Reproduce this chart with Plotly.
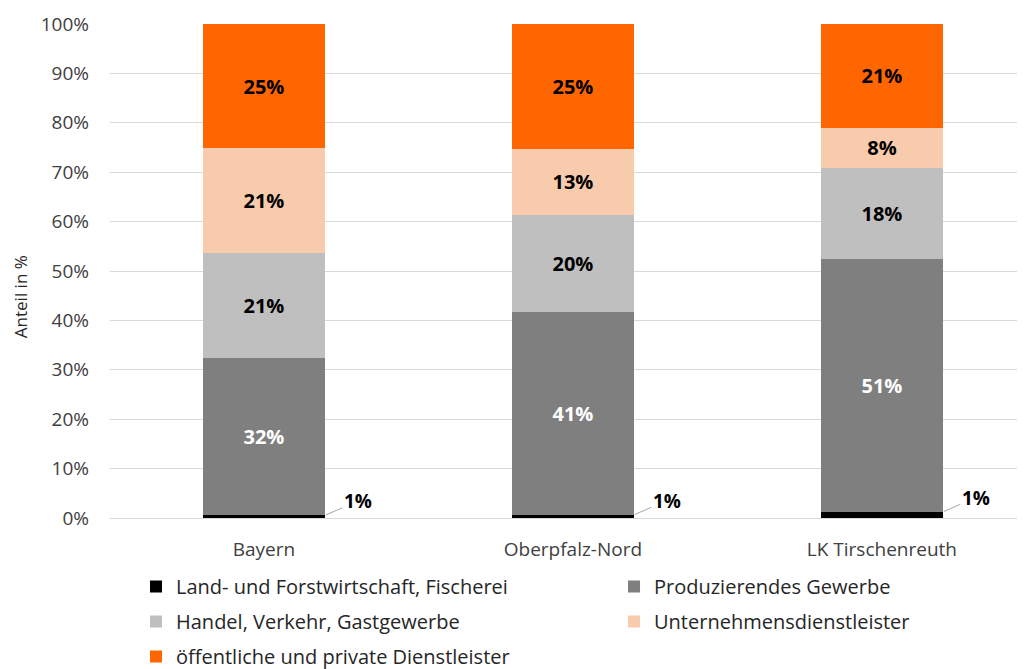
import plotly.graph_objects as go

regionen = ["Bayern", "Oberpfalz-Nord", "LK Tirschenreuth"]

land = [0.6, 0.7, 1.3]
produzierend = [31.8, 41.1, 51.1]
handel = [21.2, 19.6, 18.4]
unternehmen = [21.2, 13.3, 8.2]
oeffentlich = [25.2, 25.3, 21.0]

serien = [
    ("Land- und Forstwirtschaft, Fischerei", land, "#000000", None, "legend"),
    ("Produzierendes Gewerbe", produzierend, "#7f7f7f", "white", "legend2"),
    ("Handel, Verkehr, Gastgewerbe", handel, "#bfbfbf", "black", "legend"),
    ("Unternehmensdienstleister", unternehmen, "#f8cbad", "black", "legend2"),
    ("öffentliche und private Dienstleister", oeffentlich, "#ff6600", "black", "legend"),
]

FONT = "'Open Sans', Lato, sans-serif"
W, H = 1017, 661  # Seite hat 8px Rand

fig = go.Figure()
for name, werte, farbe, textfarbe, leg in serien:
    fig.add_trace(go.Bar(
        x=list(range(len(regionen))), y=werte, name=name,
        marker=dict(color=farbe, line=dict(width=0)),
        width=0.395,
        text=[f"{v:.0f}%" for v in werte] if textfarbe else None,
        textposition="inside" if textfarbe else "none",
        insidetextanchor="middle",
        textangle=0,
        textfont=dict(family=FONT, size=20, color=textfarbe or "black", weight="bold"),
        legend=leg, legendgroup=name,
        hoverinfo="skip",
    ))

# kleine Werte außerhalb mit Führungslinie
for i, v in enumerate(land):
    fig.add_annotation(
        x=i + 0.2, y=v, xref="x", yref="y",
        text=f"<b>{v:.0f}%</b>", showarrow=True, arrowhead=0,
        arrowwidth=1, arrowcolor="#a6a6a6", ax=32, ay=-14,
        font=dict(family=FONT, size=19, color="black"),
    )

# Achsentitel
fig.add_annotation(
    text="Anteil in %", textangle=-90, showarrow=False,
    xref="paper", yref="paper", x=-90 / 915, y=0.447,
    xanchor="center", yanchor="middle",
    font=dict(family=FONT, size=17, color="#262626"),
)

leg_common = dict(
    orientation="v", xref="container", yref="container",
    xanchor="left", yanchor="top", traceorder="grouped",
    tracegroupgap=6,
    font=dict(family=FONT, size=20, color="#262626"),
    bgcolor="rgba(0,0,0,0)", itemclick=False, itemdoubleclick=False,
)

fig.update_layout(
    barmode="stack",
    width=W, height=H,
    margin=dict(l=102, r=0, t=16, b=151, autoexpand=False),
    plot_bgcolor="white", paper_bgcolor="white",
    font=dict(family=FONT, color="#404040"),
    showlegend=True,
    legend=dict(leg_common, x=128 / W, y=1 - 559 / H),
    legend2=dict(leg_common, x=606 / W, y=1 - 559 / H),
    xaxis=dict(
        tickvals=list(range(len(regionen))), ticktext=regionen,
        range=[-0.498, 2.463], showgrid=False, zeroline=False,
        showline=False, ticks="", ticklabelstandoff=18,
        tickfont=dict(family=FONT, size=19, color="#404040"),
    ),
    yaxis=dict(
        range=[0, 100], dtick=10, ticksuffix="%",
        showgrid=True, gridcolor="#d9d9d9", gridwidth=1,
        zeroline=True, zerolinecolor="#d9d9d9", zerolinewidth=1,
        showline=False, ticks="", ticklabelstandoff=20,
        tickfont=dict(family=FONT, size=19, color="#404040"),
    ),
)

fig.write_html("out.html")
